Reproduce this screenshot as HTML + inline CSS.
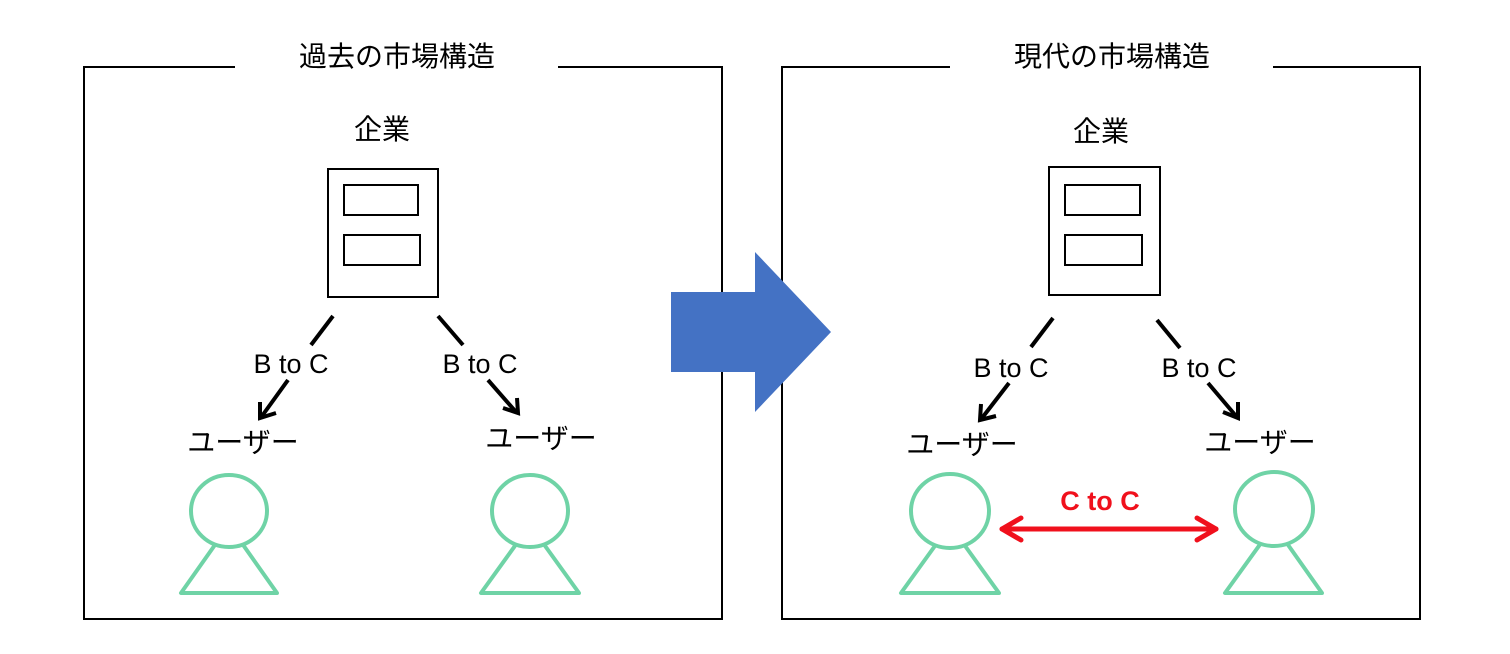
<!DOCTYPE html>
<html><head><meta charset="utf-8"><style>
html,body{margin:0;padding:0;background:#fff;}
svg{display:block;}
.jp{font-family:"Liberation Sans","Noto Sans CJK JP",sans-serif;font-size:28px;fill:#000;}
.en{font-family:"Liberation Sans",sans-serif;font-size:27px;fill:#000;}
</style></head><body>
<svg width="1510" height="654" viewBox="0 0 1510 654" xmlns="http://www.w3.org/2000/svg">
<g fill="none" stroke="#000" stroke-width="2">
<path d="M235 67 H84 V619 H722 V67 H558"/>
<path d="M950 67 H782 V619 H1420 V67 H1273"/>
</g>
<text class="jp" x="397" y="66" text-anchor="middle">過去の市場構造</text>
<text class="jp" x="1112" y="66" text-anchor="middle">現代の市場構造</text>
<text class="jp" x="382" y="139" text-anchor="middle">企業</text>
<text class="jp" x="1101" y="141" text-anchor="middle">企業</text>
<g fill="#fff" stroke="#000" stroke-width="2">
<rect x="328" y="169" width="110" height="128"/>
<rect x="344" y="185" width="74" height="30"/>
<rect x="344" y="235" width="76" height="30"/>
<rect x="1049" y="167" width="111" height="128"/>
<rect x="1065" y="185" width="75" height="30"/>
<rect x="1065" y="235" width="77" height="30"/>
</g>
<polygon points="671,292 755,292 755,252 831,332 755,412 755,372 671,372" fill="#4472c4"/>
<g stroke="#000" stroke-width="4" fill="none" stroke-linecap="butt">
<line x1="333" y1="316" x2="311" y2="345"/>
<line x1="288" y1="380" x2="262" y2="416"/>
<path d="M260 402 L260 418 L276 413"/>
<line x1="438" y1="316" x2="463" y2="345"/>
<line x1="488" y1="380" x2="516" y2="412"/>
<path d="M503 408 L518 413 L517 398"/>
<line x1="1053" y1="318" x2="1031" y2="347"/>
<line x1="1009" y1="383" x2="982" y2="418"/>
<path d="M981 404 L980 420 L996 416"/>
<line x1="1157" y1="320" x2="1180" y2="348"/>
<line x1="1208" y1="383" x2="1236" y2="416"/>
<path d="M1223 412 L1238 418 L1238 402"/>
</g>
<text class="en" x="291" y="373" text-anchor="middle">B to C</text>
<text class="en" x="480" y="373" text-anchor="middle">B to C</text>
<text class="en" x="1011" y="377" text-anchor="middle">B to C</text>
<text class="en" x="1199" y="377" text-anchor="middle">B to C</text>
<text class="jp" x="243" y="452" text-anchor="middle">ユーザー</text>
<text class="jp" x="541" y="448" text-anchor="middle">ユーザー</text>
<text class="jp" x="962" y="454" text-anchor="middle">ユーザー</text>
<text class="jp" x="1260" y="452" text-anchor="middle">ユーザー</text>
<g fill="#fff" stroke="#6fd3a6" stroke-width="4" stroke-linejoin="round">
<polygon points="229,525 181,593 277,593"/>
<ellipse cx="229" cy="511" rx="38" ry="36"/>
<polygon points="530,525 481,593 579,593"/>
<ellipse cx="530" cy="511" rx="38" ry="36"/>
<polygon points="950,525 901,593 999,593"/>
<ellipse cx="950" cy="511" rx="39" ry="37"/>
<polygon points="1274,525 1225,593 1322,593"/>
<ellipse cx="1274" cy="509" rx="39" ry="37"/>
</g>
<g stroke="#f0101c" stroke-width="5" fill="none" stroke-linecap="round" stroke-linejoin="round">
<line x1="1002" y1="529" x2="1216" y2="529"/>
<path d="M1021 518 L1002 529 L1021 540"/>
<path d="M1197 518 L1216 529 L1197 540"/>
</g>
<text x="1100" y="510" text-anchor="middle" font-family="Liberation Sans, sans-serif" font-size="27" font-weight="bold" fill="#f0101c">C to C</text>
</svg>
</body></html>
